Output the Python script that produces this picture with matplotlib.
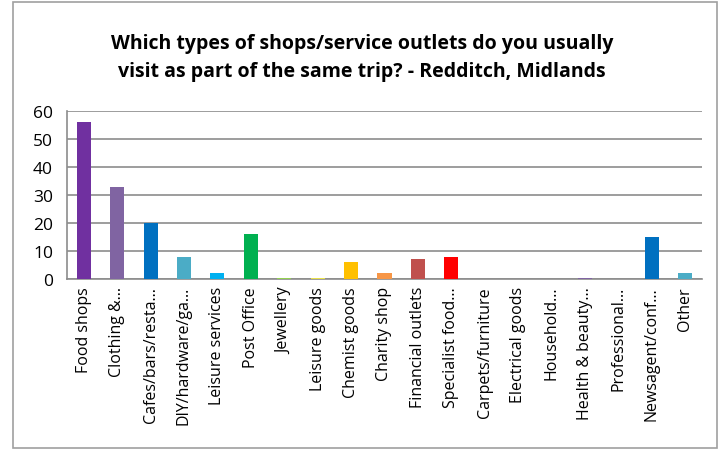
import matplotlib.pyplot as plt
from matplotlib.patches import Rectangle

categories = [
    "Food shops", "Clothing &…", "Cafes/bars/resta…", "DIY/hardware/ga…",
    "Leisure services", "Post Office", "Jewellery", "Leisure goods",
    "Chemist goods", "Charity shop", "Financial outlets", "Specialist food…",
    "Carpets/furniture", "Electrical goods", "Household…", "Health & beauty…",
    "Professional…", "Newsagent/conf…", "Other",
]
values = [56, 33, 20, 8, 2, 16, 0.3, 0.3, 6, 2, 7, 8, 0, 0, 0, 0.5, 0, 15, 2]
colors = [
    "#7030A0", "#8064A2", "#0070C0", "#4BACC6", "#00B0F0", "#00B050",
    "#92D050", "#E8E04A", "#FFC000", "#F79646", "#C0504D", "#FF0000",
    "#4F81BD", "#4F81BD", "#4F81BD", "#8064A2", "#4F81BD", "#0070C0", "#4BACC6",
]
yticks = [0, 10, 20, 30, 40, 50, 60]
title = ("Which types of shops/service outlets do you usually\n"
         "visit as part of the same trip? - Redditch, Midlands")

plt.rcParams["font.family"] = ["Open Sans", "DejaVu Sans"]

W, H = 720, 452
fig = plt.figure(figsize=(W / 100, H / 100), dpi=100)
ax = fig.add_axes([67 / W, 1 - 280 / H, (702 - 67) / W, (280 - 112) / H])

# outer chart frame
fig.patches.append(Rectangle((13 / W, 3 / H), (717 - 13) / W, (449 - 3) / H,
                             transform=fig.transFigure, fill=False,
                             edgecolor="#A0A0A0", linewidth=1.2))

xs = range(len(categories))
ax.bar(xs, values, width=0.42, color=colors, edgecolor="none", zorder=3)
ax.set_xlim(-0.5, len(categories) - 0.5)
ax.set_ylim(0, 60)
ax.set_yticks(yticks)
ax.tick_params(axis="y", length=0, labelsize=12.5, pad=10)
ax.set_xticks(list(xs))
ax.set_xticklabels(categories, rotation=90, fontsize=11.5)
ax.tick_params(axis="x", length=0, pad=5)
ax.grid(True, axis="y", color="#8C8C8C", linewidth=1.2, zorder=0)
for side in ("top", "right"):
    ax.spines[side].set_visible(False)
ax.spines["left"].set_color("#8C8C8C")
ax.spines["bottom"].set_color("#8C8C8C")
ax.spines["left"].set_linewidth(1.2)
ax.spines["bottom"].set_linewidth(1.2)

fig.text(362 / W, 1 - 58 / H, title, ha="center", va="center",
         fontsize=14, fontweight="bold", linespacing=1.5)

fig.savefig("out.png", dpi=100)
